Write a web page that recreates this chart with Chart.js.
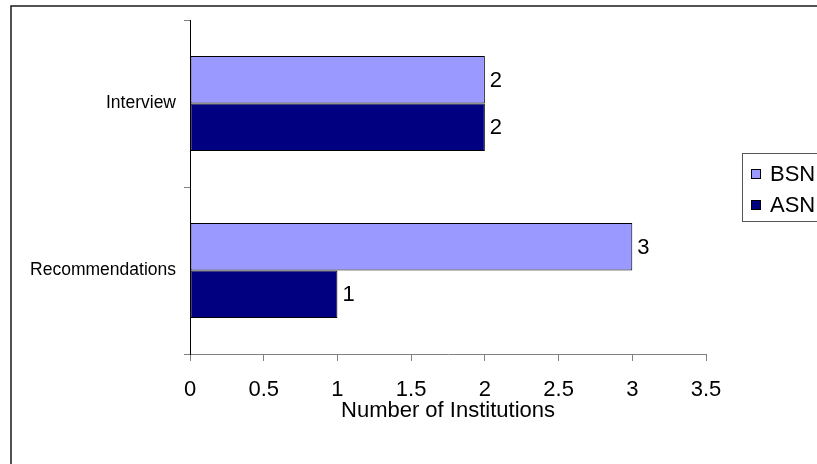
<!DOCTYPE html>
<html>
<head>
<meta charset="utf-8">
<script src="https://cdn.jsdelivr.net/npm/chart.js@4.4.0/dist/chart.umd.min.js"></script>
<style>
  html, body { margin: 0; padding: 0; background: #fff; overflow: hidden; }
  #chart { display: block; }
</style>
</head>
<body>
<canvas id="chart" width="817" height="464"></canvas>
<script>
// data
const categories = ["Interview", "Recommendations"];
const bsnValues = [2, 3];
const asnValues = [2, 1];
const seriesNames = ["BSN", "ASN"];
const xTicks = [0, 0.5, 1, 1.5, 2, 2.5, 3, 3.5];

const BSN_COLOR = "#9999FF";
const ASN_COLOR = "#000080";
const FONT = "'Liberation Sans', Arial, sans-serif";

// outer frame, runs off the right and bottom edges like the original
const framePlugin = {
  id: "frame",
  beforeDraw(chart) {
    const ctx = chart.ctx;
    ctx.save();
    ctx.fillStyle = "#fff";
    ctx.fillRect(0, 0, chart.width, chart.height);
    ctx.strokeStyle = "#1a1a1a";
    ctx.lineWidth = 1.5;
    ctx.strokeRect(11, 6, 900, 600);
    ctx.restore();
  },
};

// value labels at the end of each bar
const valueLabels = {
  id: "valueLabels",
  afterDatasetsDraw(chart) {
    const ctx = chart.ctx;
    ctx.save();
    ctx.font = "22px " + FONT;
    ctx.fillStyle = "#000";
    ctx.textAlign = "left";
    ctx.textBaseline = "middle";
    chart.data.datasets.forEach((ds, i) => {
      chart.getDatasetMeta(i).data.forEach((bar, j) => {
        ctx.fillText(String(ds.data[j]), bar.x + 5, bar.y + 1);
      });
    });
    ctx.restore();
  },
};

// boxed legend on the right, clipped by the canvas edge
const boxLegend = {
  id: "boxLegend",
  afterDraw(chart) {
    const ctx = chart.ctx;
    const left = 742, top = 153, h = 68;
    ctx.save();
    ctx.strokeStyle = "#555";
    ctx.lineWidth = 1;
    ctx.strokeRect(left + 0.5, top + 0.5, 200, h);
    ctx.font = "22px " + FONT;
    ctx.textBaseline = "middle";
    chart.data.datasets.forEach((ds, i) => {
      const cy = 174 + i * 31;
      ctx.fillStyle = ds.backgroundColor;
      ctx.fillRect(751, cy - 5, 10, 10);
      ctx.strokeStyle = "#000";
      ctx.strokeRect(751.5, cy - 4.5, 9, 9);
      ctx.fillStyle = "#000";
      ctx.fillText(ds.label, 770, cy + 1);
    });
    ctx.restore();
  },
};

const ctx = document.getElementById("chart").getContext("2d");
const chart = new Chart(ctx, {
  type: "bar",
  data: {
    labels: categories,
    datasets: [
      {
        label: seriesNames[0],
        data: bsnValues,
        backgroundColor: BSN_COLOR,
        borderColor: "#000",
        borderWidth: 1,
        borderSkipped: false,
        categoryPercentage: 0.57,
        barPercentage: 1,
      },
      {
        label: seriesNames[1],
        data: asnValues,
        backgroundColor: ASN_COLOR,
        borderColor: "#000",
        borderWidth: 1,
        borderSkipped: false,
        categoryPercentage: 0.57,
        barPercentage: 1,
      },
    ],
  },
  options: {
    indexAxis: "y",
    responsive: false,
    animation: false,
    devicePixelRatio: 1,
    layout: { padding: { top: 20, right: 111, left: 0, bottom: 0 } },
    plugins: {
      legend: { display: false },
      tooltip: { enabled: false },
    },
    scales: {
      x: {
        min: 0,
        max: 3.5,
        afterFit(scale) { scale.height = 110; },
        afterBuildTicks(scale) { scale.ticks = xTicks.map((v) => ({ value: v })); },
        grid: { drawOnChartArea: false, tickLength: 7, color: "#808080" },
        border: { color: "#808080", width: 1 },
        ticks: {
          color: "#000",
          padding: 16,
          font: { size: 22, family: FONT },
          maxRotation: 0,
          callback: (v) => String(v),
        },
        title: {
          display: true,
          text: "Number of Institutions",
          color: "#000",
          font: { size: 22, family: FONT },
          padding: { top: 0, bottom: 40 },
        },
      },
      y: {
        afterFit(scale) { scale.width = 190; },
        grid: { drawOnChartArea: false, offset: true, tickLength: 6, color: "#808080" },
        border: { color: "#000", width: 1 },
        ticks: {
          color: "#000",
          padding: 8,
          font: { size: 17.5, family: FONT },
        },
      },
    },
  },
  plugins: [framePlugin, valueLabels, boxLegend],
});
</script>
</body>
</html>
